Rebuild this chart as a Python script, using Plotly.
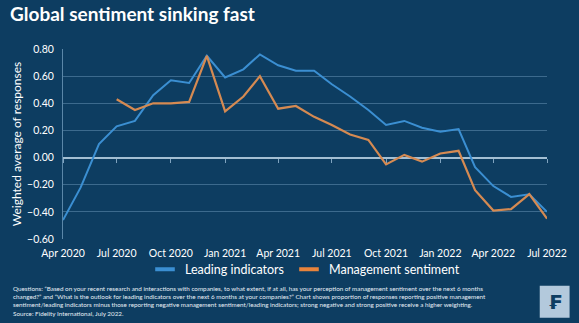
import plotly.graph_objects as go
import pandas as pd

months = pd.date_range("2020-04-01", periods=28, freq="MS")
leading = [-0.46, -0.22, 0.10, 0.23, 0.27, 0.46, 0.57, 0.55, 0.75, 0.59, 0.65, 0.76,
           0.68, 0.64, 0.64, 0.54, 0.45, 0.35, 0.24, 0.27, 0.22, 0.19, 0.21, -0.07,
           -0.21, -0.29, -0.27, -0.40]
mgmt_months = months[3:]
management = [0.43, 0.35, 0.40, 0.40, 0.41, 0.75, 0.34, 0.45, 0.60, 0.36, 0.38, 0.30,
              0.24, 0.17, 0.13, -0.05, 0.02, -0.03, 0.03, 0.05, -0.24, -0.39, -0.38,
              -0.27, -0.45]
tick_dates = months[::3]
tick_text = ["Apr 2020", "Jul 2020", "Oct 2020", "Jan 2021", "Apr 2021", "Jul 2021",
             "Oct 2021", "Jan 2022", "Apr 2022", "Jul 2022"]
y_ticks = [-0.6, -0.4, -0.2, 0.0, 0.2, 0.4, 0.6, 0.8]

BG = "#0d3d61"
BLUE = "#3b8fd2"
ORANGE = "#d58a52"
LEG_ORANGE = "#e8843c"
TXT = "#ffffff"
FONT = "Lato"

W, H = 579, 323
L, R, T, B = 62.7, 29.7, 49.3, 83.7
pw, ph = W - L - R, H - T - B

def px(x):
    return (x - L) / pw

def py(y):
    return (H - B - y) / ph

fig = go.Figure()
fig.add_trace(go.Scatter(x=months, y=leading, mode="lines", line=dict(color=BLUE, width=2),
                         showlegend=False, hoverinfo="skip"))
fig.add_trace(go.Scatter(x=mgmt_months, y=management, mode="lines",
                         line=dict(color=ORANGE, width=2.2), showlegend=False, hoverinfo="skip"))
# legend entries
fig.add_trace(go.Scatter(x=[None], y=[None], mode="markers", name="Leading indicators",
                         marker=dict(symbol="line-ew-open", size=14, color=BLUE,
                                     line=dict(width=4, color=BLUE))))
fig.add_trace(go.Scatter(x=[None], y=[None], mode="markers", name="Management sentiment",
                         marker=dict(symbol="line-ew-open", size=14, color=LEG_ORANGE,
                                     line=dict(width=4, color=LEG_ORANGE))))
# trace on overlay axis for zero-line ticks
fig.add_trace(go.Scatter(x=[months[0]], y=[None], xaxis="x2", mode="lines",
                         showlegend=False, hoverinfo="skip"))

fig.update_layout(
    width=W, height=H,
    margin=dict(l=L, r=R, t=T, b=B, pad=0),
    paper_bgcolor=BG, plot_bgcolor=BG,
    font=dict(family=FONT, color=TXT, size=11),
    title=dict(text="Global sentiment sinking fast", x=10 / W, xanchor="left",
               y=1 - 8 / H, yanchor="top",
               font=dict(family=FONT, size=19, color=TXT, weight="bold")),
    xaxis=dict(range=[months[0], months[-1]], tickvals=tick_dates, ticktext=tick_text,
               showgrid=False, zeroline=False, showline=False, ticks="",
               ticklabelstandoff=6,
               tickfont=dict(size=10.5, color=TXT)),
    xaxis2=dict(overlaying="x", matches="x", anchor="free", position=0.6 / 1.4,
                tickvals=tick_dates, ticks="outside", ticklen=4, tickwidth=1,
                tickcolor="#7fa3bf", showticklabels=False, showgrid=False,
                zeroline=False, showline=False),
    yaxis=dict(range=[-0.6, 0.8], tickvals=y_ticks, tickformat=".2f",
               showgrid=True, gridcolor="#3c6a8d", gridwidth=1,
               zeroline=True, zerolinecolor="#a3bfd3", zerolinewidth=1.5,
               showline=True, linecolor="#5b87a8", linewidth=1, ticks="",
               ticklabelstandoff=6,
               tickfont=dict(size=10.5, color=TXT),
               title=dict(text="Weighted average of responses", standoff=2,
                          font=dict(size=12, color=TXT))),
    legend=dict(orientation="h", x=px(306), xanchor="center", y=py(270), yanchor="middle",
                font=dict(size=12.5, color=TXT), bgcolor="rgba(0,0,0,0)",
                itemwidth=30, tracegroupgap=0),
    shapes=[dict(type="rect", xref="paper", yref="paper",
                 x0=px(542), x1=px(572), y0=py(318), y1=py(286),
                 fillcolor="#b3c9dc", line=dict(width=0))],
)

footnote = ("Questions: \u201cBased on your recent research and interactions with companies, to what extent, if at all, has your perception of management sentiment over the next 6 months<br>"
            "changed?\u201d and \u201cWhat is the outlook for leading indicators over the next 6 months at your companies?\u201d Chart shows proportion of responses reporting positive management<br>"
            "sentiment/leading indicators minus those reporting negative management sentiment/leading indicators; strong negative and strong positive receive a higher weighting.<br>"
            "Source: Fidelity International, July 2022.")
fig.add_annotation(text=footnote, xref="paper", yref="paper", x=px(10), y=py(283),
                   xanchor="left", yanchor="top", align="left", showarrow=False,
                   font=dict(size=6.3, color="#e6eef5", family=FONT))
fig.add_annotation(text="<b>\u20a3</b>", xref="paper", yref="paper", x=px(557), y=py(302),
                   xanchor="center", yanchor="middle", showarrow=False,
                   font=dict(size=20, color="#0d3d61", family="DejaVu Sans"))

fig.write_html("out.html")
